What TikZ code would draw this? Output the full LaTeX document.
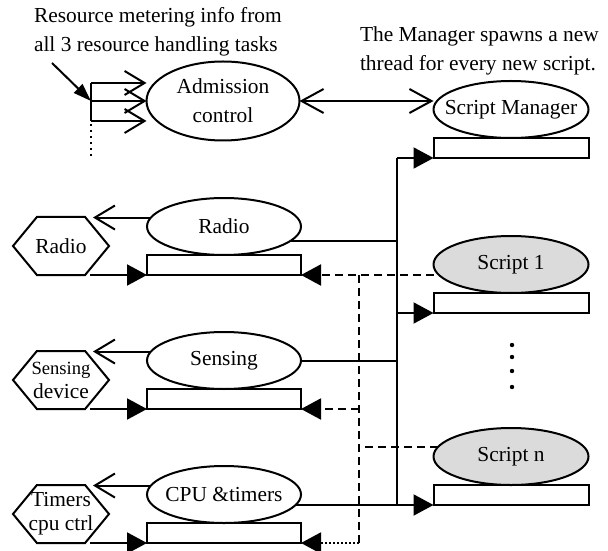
\documentclass[tikz,border=0pt]{standalone}
\usepackage{fontspec}
\setmainfont{Liberation Serif}
\usetikzlibrary{shapes,arrows.meta,positioning,calc}
\tikzset{
    task/.style={draw, ellipse, minimum width=77pt, minimum height=28.5pt, inner sep=0pt, outer sep=0pt},
    script/.style={task, fill=black!14},
    queue/.style={draw, rectangle, minimum width=77pt, minimum height=10pt, inner sep=0pt, outer sep=0pt},
    device/.style={draw, signal, signal to=west and east, signal pointer angle=101,
                   minimum width=48pt, minimum height=29pt, inner sep=0pt, outer sep=0pt,
                   align=center, font=\fontsize{10.7}{12}\selectfont},
    note/.style={align=left, inner sep=0pt},
    openarr/.style={-{Straight Barb[length=10pt,width=12pt]}},
    biarr/.style={{Straight Barb[length=11pt,width=12pt]}-{Straight Barb[length=11pt,width=12pt]}},
    fillarr/.style={-{Triangle[length=10pt,width=10.5pt]}},
    reply/.style={fillarr, dash pattern=on 4pt off 2.5pt},
}

\begin{document}
\begin{tikzpicture}[x=0.5pt, y=-0.5pt, line width=1pt, font=\fontsize{10.7}{14.5}\selectfont]
    \useasboundingbox (0,0) rectangle (608,550);

    % Notes
    \node[note, anchor=west] (meter) at (33,32) {Resource metering info from\\all 3 resource handling tasks};
    \node[note, anchor=west] (spawn) at (359,51) {The Manager spawns a new\\thread for every new script.};

    % Admission control and metering inputs
    \node[task, minimum width=76.5pt, minimum height=39.5pt, align=center] (adm) at (223,101) {Admission\\control};
    \coordinate (mtr) at (91,101);
    \coordinate (mnote) at (52,63);
    \draw[-{Triangle[length=9pt,width=6pt]}] (mnote) -- (mtr);
    \draw ($(mtr)+(0,-18)$) -- ($(mtr)+(0,20)$);
    \draw[openarr] ($(mtr)+(0,-18)$) -- ($(adm.west)+(0,-18)$);
    \draw[openarr] (mtr) -- (adm.west);
    \draw[openarr] ($(mtr)+(0,20)$) -- ($(adm.west)+(0,20)$);
    \draw[dotted] ($(mtr)+(0,23)$) -- ($(mtr)+(0,56)$);

    % Script side
    \node[task, minimum width=77.5pt] (sm) at (511,109.5) {\makebox[0pt]{Script Manager}};
    \node[queue, minimum width=77.5pt, below=0pt of sm] (smbar) {};
    \node[script, minimum width=77.5pt] (s1) at (511,264.5) {Script 1};
    \node[queue, minimum width=77.5pt, below=0pt of s1] (s1bar) {};
    \node[script, minimum width=77.5pt] (sn) at (511,456.5) {Script n};
    \node[queue, minimum width=77.5pt, below=0pt of sn] (snbar) {};
    \draw[biarr] (adm.east) -- (adm.east -| sm.west);

    % Resource handling tasks
    \node[task] (radio) at (224,226.5) {Radio};
    \node[queue, below=0pt of radio] (radiobar) {};
    \node[task] (sens) at (224,360.5) {Sensing};
    \node[queue, below=0pt of sens] (sensbar) {};
    \node[task] (cpu) at (224,494.5) {\makebox[0pt]{CPU \&timers}};
    \node[queue, below=0pt of cpu] (cpubar) {};

    % Devices
    \node[device] (hexR) at (61,246) {\makebox[0pt]{Radio}};
    \node[device] (hexS) at (61,380) {\makebox[0pt]{\fontsize{9.3}{11}\selectfont Sensing}\\\makebox[0pt]{device}};
    \node[device] (hexC) at (61,514) {\makebox[0pt]{Timers}\\\makebox[0pt]{cpu ctrl}};

    \draw[openarr, shorten >=-8pt] (radio.173) -- (radio.173 -| hexR.east);
    \draw[openarr, shorten >=-8pt] (sens.173) -- (sens.173 -| hexS.east);
    \draw[openarr, shorten >=-8pt] (cpu.173) -- (cpu.173 -| hexC.east);
    \draw[fillarr] ([xshift=14.5pt]hexR.south) -- (hexR.south -| radiobar.west);
    \draw[fillarr] ([xshift=14.5pt]hexS.south) -- (hexS.south -| sensbar.west);
    \draw[fillarr] ([xshift=14.5pt]hexC.south) -- (hexC.south -| cpubar.west);

    % Request bus to the scripts
    \coordinate (bus) at (397,505);
    \draw[fillarr] (cpu.-8 |- snbar.south) -- (snbar.south west);
    \draw (bus) -- (bus |- smbar.south);
    \draw[fillarr] (bus |- smbar.south) -- (smbar.south west);
    \draw[fillarr] (bus |- s1bar.south) -- (s1bar.south west);
    \draw (radio.-12) -- (radio.-12 -| bus);
    \draw (sens.east) -- (sens.east -| bus);

    % Replies back to the tasks
    \coordinate (ret) at (359,543);
    \draw[reply] (radiobar.south east -| s1.west) -- (radiobar.south east);
    \draw[dash pattern=on 4pt off 2.5pt] (ret |- radiobar.south) -- (ret);
    \draw[reply] (ret |- sensbar.south) -- (sensbar.south east);
    \draw[dash pattern=on 4pt off 2.5pt] (sn.173) -- (sn.173 -| ret);
    \draw[fillarr, dash pattern=on 0.9pt off 1.1pt] (ret) -- (cpubar.south east);

    % More scripts
    \fill (512,345) circle (1.1pt);
    \fill (512,357) circle (1.1pt);
    \fill (512,371) circle (1.1pt);
    \fill (512,387) circle (1.1pt);
\end{tikzpicture}
\end{document}
